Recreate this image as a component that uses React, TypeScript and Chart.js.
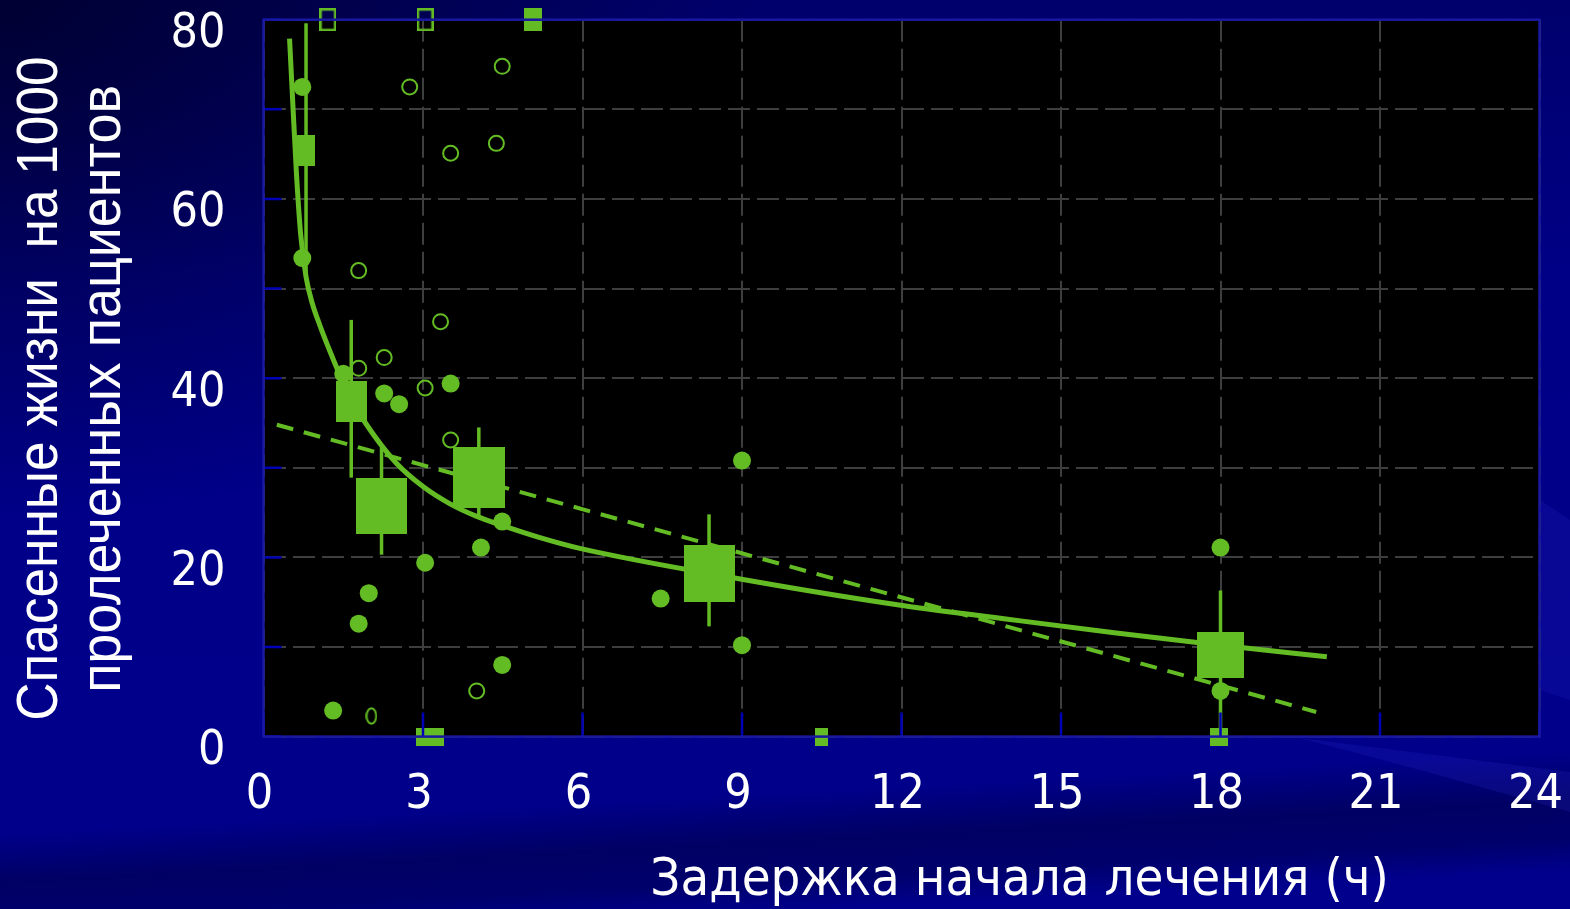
import React, { useEffect, useRef } from "react";
import { Chart, registerables } from "chart.js";

Chart.register(...registerables);

// ---- data ----
// axis ticks
const xTickValues = [0, 3, 6, 9, 12, 15, 18, 21, 24];
const yGridValues = [0, 10, 20, 30, 40, 50, 60, 70, 80];
const yTickLabels = [0, 20, 40, 60, 80];

// fitted curve: lives saved per 1000 treated vs. treatment delay (h)
const fitHours = [0.49, 0.55, 0.62, 0.7, 0.8, 0.92, 1.06, 1.25, 1.44, 1.7, 1.94, 2.5, 3.0, 3.5, 4.0, 4.57, 5.2, 5.95, 8.86, 12.05, 14.0, 16.0, 18.0, 20.0];
const fitLives = [77.9, 70.8, 62.8, 56.0, 51.3, 48.3, 45.9, 43.0, 40.3, 37.2, 34.8, 30.5, 27.9, 26.0, 24.6, 23.4, 22.2, 21.0, 17.7, 14.6, 13.1, 11.6, 10.2, 8.9];

// linear regression
const regHours = [0.25, 19.8];
const regLives = [34.8, 2.75];

// grouped estimates with confidence limits
const groupHours = [0.8, 1.65, 2.22, 4.05, 8.38, 18];
const groupLives = [65.4, 37.4, 25.7, 28.9, 18.2, 9.1];
const groupLow = [51.7, 28.9, 20.3, 24.4, 12.3, 0];
const groupHigh = [79.6, 46.5, 32.2, 34.5, 24.8, 16.3];

// individual trials, filled markers
const filledHours = [0.73, 0.73, 1.31, 1.5, 1.79, 1.98, 2.27, 2.55, 3.04, 3.52, 4.09, 4.49, 4.49, 7.47, 9.0, 9.0, 18.0, 18.0];
const filledLives = [72.5, 53.4, 2.9, 40.5, 12.6, 16.0, 38.3, 37.1, 19.4, 39.4, 21.1, 24.0, 8.0, 15.4, 30.8, 10.2, 21.1, 5.1];

// individual trials, open markers
const openHours = [2.75, 4.49, 3.52, 4.38, 1.79, 3.33, 2.27, 1.79, 3.04, 3.52, 4.01];
const openLives = [72.5, 74.8, 65.1, 66.2, 52.0, 46.3, 42.3, 41.1, 38.9, 33.1, 5.1];
const ovalHours = [2.03];
const ovalLives = [2.3];

// trials beyond the axis range, placed on the frame
const offTopHours = [1.21, 3.04, 5.07];
const offTopLives = [80, 80, 80];
const offBottomHours = [3.13, 10.5, 17.97];
const offBottomLives = [0, 0, 0];

// ---- styles ----
const GREEN = "#64bc24";
const GRID = "#3e3e3e";
const FRAME = "#1818a2";
const TICK = "#0000b8";
const groupBoxW = [18, 31, 51, 52, 51, 47];
const groupBoxH = [31, 41, 56, 61, 57, 46];
const offTopFilled = [false, false, true];
const offTopW = [17, 17, 18];
const offTopH = [23, 23, 23];
const offBottomW = [28, 13, 18];
const offBottomH = [18, 18, 18];

const yTitleLines = ["Спасенные жизни  на 1000", "пролеченных пациентов"];
const xTitle = "Задержка начала лечения (ч)";

const tickFont = { family: "'DejaVu Sans Condensed', 'DejaVu Sans', sans-serif", size: 48 };

function pts(xs: number[], ys: number[]) {
  return xs.map((x, i) => ({ x, y: ys[i] }));
}

function rectImage(w: number, h: number, filled: boolean) {
  const c = document.createElement("canvas");
  c.width = w;
  c.height = h;
  const g = c.getContext("2d")!;
  if (filled) {
    g.fillStyle = GREEN;
    g.fillRect(0, 0, w, h);
  } else {
    g.strokeStyle = GREEN;
    g.lineWidth = 2.5;
    g.strokeRect(1.25, 1.25, w - 2.5, h - 2.5);
  }
  return c;
}

function ovalImage(w: number, h: number) {
  const c = document.createElement("canvas");
  c.width = w;
  c.height = h;
  const g = c.getContext("2d")!;
  g.strokeStyle = GREEN;
  g.lineWidth = 2;
  g.beginPath();
  g.ellipse(w / 2, h / 2, w / 2 - 1.2, h / 2 - 1.2, 0, 0, Math.PI * 2);
  g.stroke();
  return c;
}

function drawSqueezed(
  ctx: CanvasRenderingContext2D,
  text: string,
  font: string,
  x: number,
  y: number,
  inkWidth: number,
  angle: number
) {
  ctx.save();
  ctx.translate(x, y);
  ctx.rotate(angle);
  ctx.font = font;
  ctx.textAlign = "left";
  ctx.textBaseline = "alphabetic";
  const m = ctx.measureText(text);
  const w = m.actualBoundingBoxLeft + m.actualBoundingBoxRight;
  ctx.scale(inkWidth / w, 1);
  ctx.fillText(text, -w / 2 + m.actualBoundingBoxLeft, 0);
  ctx.restore();
}

const plotBackground = {
  id: "plotBackground",
  beforeDraw(chart: any) {
    const { ctx, chartArea: a } = chart;
    ctx.save();
    ctx.fillStyle = "#000";
    ctx.fillRect(a.left, a.top, a.right - a.left, a.bottom - a.top);
    ctx.restore();
  },
};

const frameAndTicks = {
  id: "frameAndTicks",
  afterDatasetsDraw(chart: any) {
    const { ctx, chartArea: a, scales } = chart;
    ctx.save();
    ctx.strokeStyle = TICK;
    ctx.lineWidth = 2.5;
    ctx.beginPath();
    scales.x.ticks.forEach((t: any) => {
      const px = scales.x.getPixelForValue(t.value);
      ctx.moveTo(px, a.bottom);
      ctx.lineTo(px, a.bottom - 24);
    });
    scales.y.ticks.forEach((t: any) => {
      const py = scales.y.getPixelForValue(t.value);
      ctx.moveTo(a.left, py);
      ctx.lineTo(a.left + 18, py);
    });
    ctx.stroke();
    ctx.strokeStyle = FRAME;
    ctx.lineWidth = 2.5;
    ctx.strokeRect(a.left, a.top, a.right - a.left, a.bottom - a.top);
    ctx.restore();
  },
};

const axisTitles = {
  id: "axisTitles",
  afterDraw(chart: any) {
    const ctx = chart.ctx;
    ctx.save();
    ctx.fillStyle = "#ffffff";
    drawSqueezed(ctx, yTitleLines[0], "57px 'Liberation Sans', sans-serif", 57, 388.5, 661, -Math.PI / 2);
    drawSqueezed(ctx, yTitleLines[1], "57px 'Liberation Sans', sans-serif", 120, 388.5, 603, -Math.PI / 2);
    drawSqueezed(ctx, xTitle, "52px 'DejaVu Sans', sans-serif", 1019, 895, 732, 0);
    ctx.restore();
  },
};

export default function App() {
  const ref = useRef<HTMLCanvasElement>(null);

  useEffect(() => {
    const boxImgs = groupHours.map((_, i) => rectImage(groupBoxW[i], groupBoxH[i], true));
    const topImgs = offTopHours.map((_, i) => rectImage(offTopW[i], offTopH[i], offTopFilled[i]));
    const bottomImgs = offBottomHours.map((_, i) => rectImage(offBottomW[i], offBottomH[i], true));
    const oval = ovalImage(12, 18);

    const errorBars = groupHours.map((h, i) => ({
      data: [
        { x: h, y: groupLow[i] },
        { x: h, y: groupHigh[i] },
      ],
      showLine: true,
      borderColor: GREEN,
      borderWidth: 3.5,
      pointRadius: 0,
      clip: false as const,
    }));

    const chart = new Chart(ref.current!, {
      type: "scatter",
      data: {
        datasets: [
          {
            data: pts(offTopHours, offTopLives),
            pointStyle: (c: any) => topImgs[c.dataIndex],
            pointRadius: 10,
            clip: false,
          },
          {
            data: pts(offBottomHours, offBottomLives),
            pointStyle: (c: any) => bottomImgs[c.dataIndex],
            pointRadius: 10,
            clip: false,
          },
          {
            data: pts(groupHours, groupLives),
            pointStyle: (c: any) => boxImgs[c.dataIndex],
            pointRadius: 10,
            clip: false,
          },
          {
            data: pts(filledHours, filledLives),
            pointStyle: "circle",
            pointRadius: 9,
            pointBackgroundColor: GREEN,
            pointBorderWidth: 0,
            clip: false,
          },
          {
            data: pts(openHours, openLives),
            pointStyle: "circle",
            pointRadius: 7.5,
            pointBackgroundColor: "rgba(0,0,0,0)",
            pointBorderColor: GREEN,
            pointBorderWidth: 2,
            clip: false,
          },
          {
            data: pts(ovalHours, ovalLives),
            pointStyle: oval,
            pointRadius: 10,
            clip: false,
          },
          ...errorBars,
          {
            data: pts(fitHours, fitLives),
            showLine: true,
            borderColor: GREEN,
            borderWidth: 5,
            cubicInterpolationMode: "monotone",
            pointRadius: 0,
          },
          {
            data: pts(regHours, regLives),
            showLine: true,
            borderColor: GREEN,
            borderWidth: 4,
            borderDash: [17, 11],
            pointRadius: 0,
          },
        ] as any,
      },
      options: {
        animation: false,
        responsive: false,
        events: [],
        layout: { padding: { left: 0, top: 19.7, right: 30.5, bottom: 0 } },
        plugins: { legend: { display: false }, tooltip: { enabled: false } },
        scales: {
          x: {
            type: "linear",
            min: 0,
            max: 24,
            afterBuildTicks: (s: any) => {
              s.ticks = xTickValues.map((v) => ({ value: v }));
            },
            afterFit: (s: any) => {
              s.height = 172.4;
              s.paddingLeft = 0;
              s.paddingRight = 0;
            },
            ticks: {
              color: "#ffffff",
              font: tickFont,
              padding: 30,
              labelOffset: -4,
              maxRotation: 0,
              autoSkip: false,
            },
            grid: { color: GRID, lineWidth: 2, drawTicks: false },
            border: { display: false, dash: [22, 7] },
          },
          y: {
            type: "linear",
            min: 0,
            max: 80,
            afterBuildTicks: (s: any) => {
              s.ticks = yGridValues.map((v) => ({ value: v }));
            },
            afterFit: (s: any) => {
              s.width = 263.5;
              s.paddingTop = 0;
              s.paddingBottom = 0;
            },
            ticks: {
              color: "#ffffff",
              font: tickFont,
              padding: 38,
              labelOffset: 15,
              autoSkip: false,
              callback: (v: any) => (yTickLabels.includes(Number(v)) ? String(v) : ""),
            },
            grid: { color: GRID, lineWidth: 2, drawTicks: false },
            border: { display: false, dash: [22, 7] },
          },
        },
      },
      plugins: [plotBackground, frameAndTicks, axisTitles],
    });
    return () => chart.destroy();
  }, []);

  return (
    <div
      style={{
        position: "fixed",
        left: 0,
        top: 0,
        width: 1570,
        height: 909,
        overflow: "hidden",
        background: [
          "radial-gradient(ellipse 760px 520px at 0% 0%, rgba(0,0,36,0.8), rgba(0,0,36,0) 100%)",
          "linear-gradient(177deg, rgba(0,0,60,0) 84%, rgba(0,0,60,0.5) 89%, rgba(0,0,60,0.4) 93%, rgba(0,0,60,0) 96%)",
          "linear-gradient(180deg, #00006c 0%, #000086 30%, #00008c 100%)",
        ].join(","),
      }}
    >
      <div
        style={{
          position: "absolute",
          inset: 0,
          background: "rgba(40,40,200,0.22)",
          clipPath: "polygon(1300px 738px, 1570px 772px, 1570px 812px, 1420px 770px)",
        }}
      />
      <div
        style={{
          position: "absolute",
          inset: 0,
          background: "rgba(40,40,200,0.2)",
          clipPath: "polygon(1540px 500px, 1570px 520px, 1570px 700px, 1540px 690px)",
        }}
      />
      <canvas ref={ref} width={1570} height={909} style={{ position: "absolute", left: 0, top: 0, width: 1570, height: 909 }} />
    </div>
  );
}
